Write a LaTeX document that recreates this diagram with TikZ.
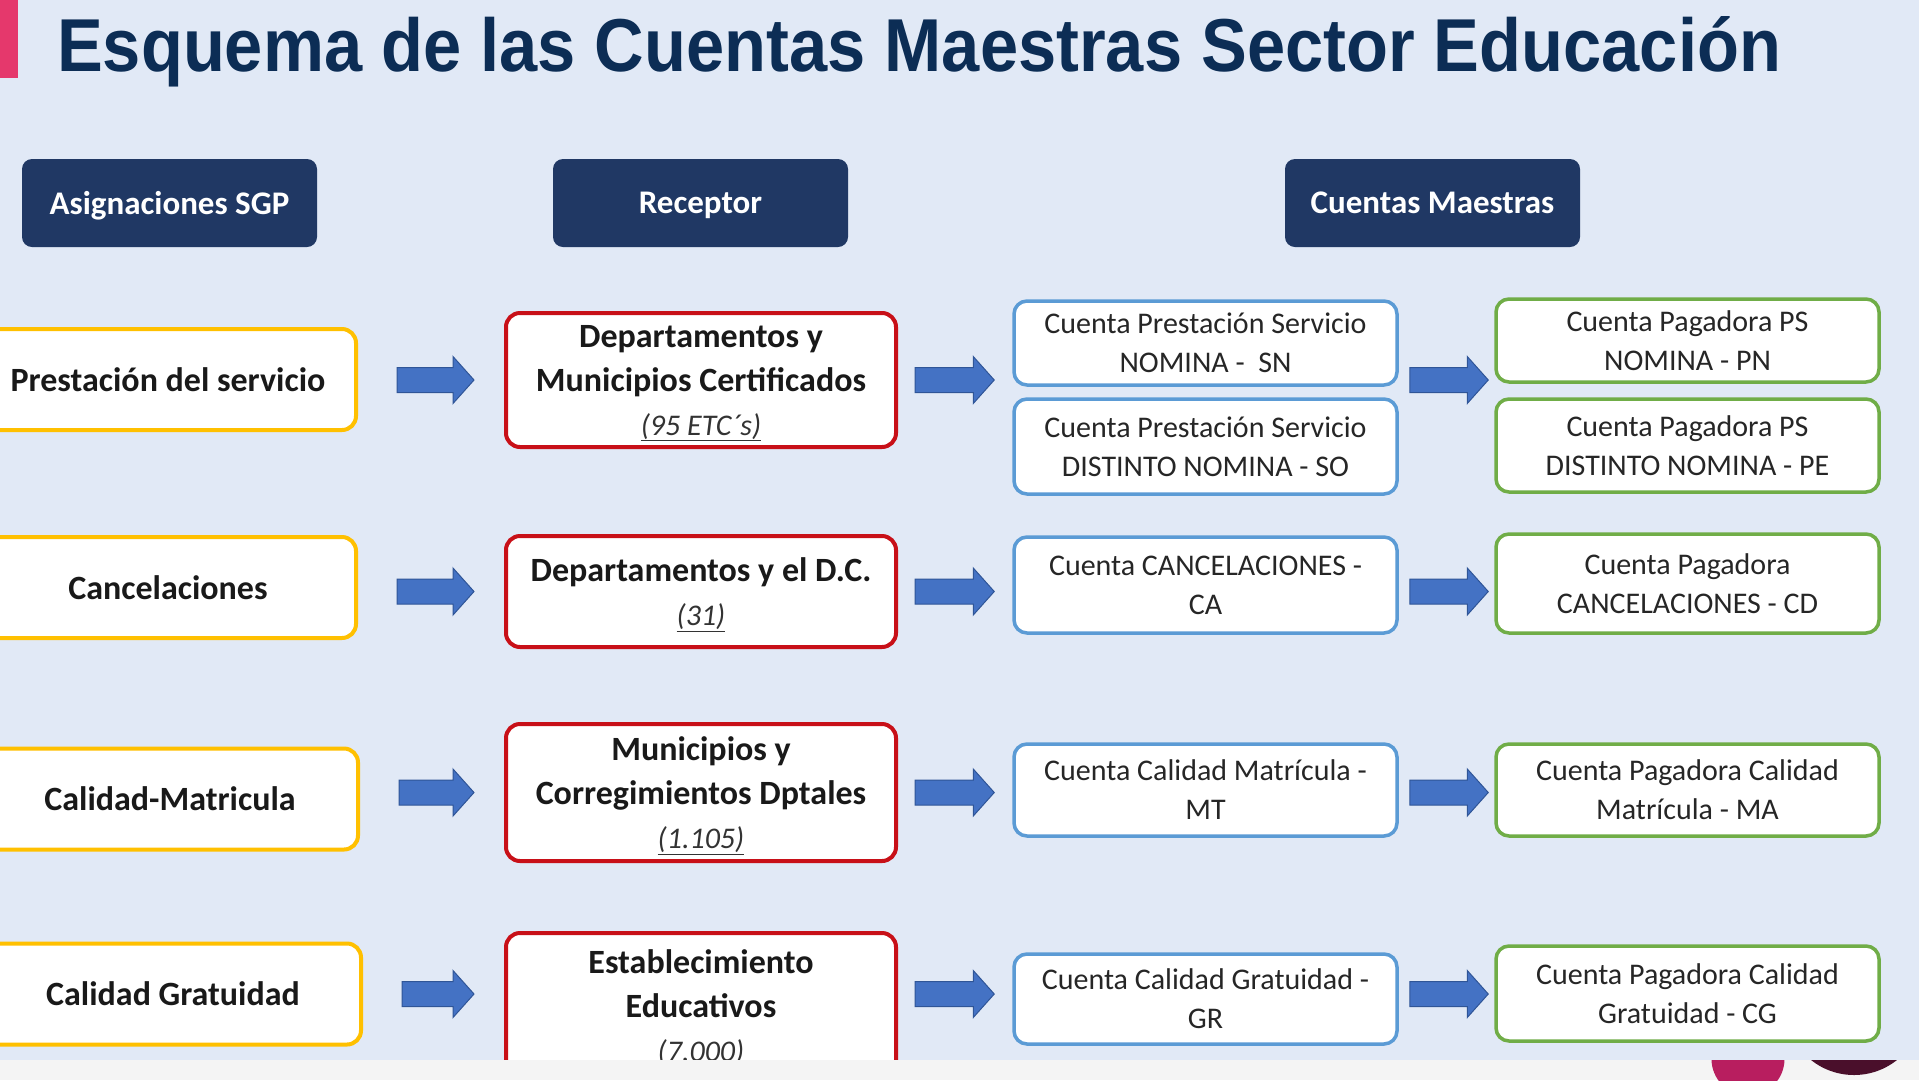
\documentclass[tikz,border=0pt]{standalone}
\usepackage{fontspec}
\setmainfont{Carlito}
\newfontfamily\titlefont[FakeStretch=0.915]{Liberation Sans}
\usetikzlibrary{calc}
\definecolor{bgblue}{RGB}{225,233,246}
\definecolor{navy}{RGB}{32,56,100}
\definecolor{titleblue}{RGB}{12,45,85}
\definecolor{barpink}{RGB}{229,56,108}
\definecolor{ygold}{RGB}{255,192,0}
\definecolor{rred}{RGB}{200,16,24}
\definecolor{bblue}{RGB}{91,155,213}
\definecolor{ggreen}{RGB}{112,173,71}
\definecolor{arrowblue}{RGB}{68,114,196}
\definecolor{arrowedge}{RGB}{47,85,151}
\definecolor{stripgray}{RGB}{244,244,244}
\definecolor{dotpink}{RGB}{184,30,95}
\definecolor{dotplum}{RGB}{74,15,43}
\newcommand{\cantidad}[1]{{\normalfont\itshape\fontsize{30}{44}\selectfont\color{black!80}\underline{#1}}}

\begin{document}
\begin{tikzpicture}[x=1pt, y=-1pt,
    head/.style={fill=navy, rounded corners=10pt, text=white, inner sep=0pt, text depth=0pt,
        font=\bfseries\fontsize{33}{40}\selectfont, minimum width=295pt, minimum height=88pt},
    src/.style={draw=ygold, line width=4pt, fill=white, rounded corners=14pt, inner sep=0pt,
        font=\bfseries\fontsize{34}{44}\selectfont, text=black!90, minimum width=376pt, minimum height=101pt},
    recv/.style={draw=rred, line width=4pt, fill=white, rounded corners=14pt, inner sep=0pt, align=center,
        text depth=0pt, font=\bfseries\fontsize{34}{44}\selectfont, text=black!90, minimum width=390pt},
    acct/.style={draw=bblue, line width=3.5pt, fill=white, rounded corners=13pt, inner sep=0pt, align=center,
        font=\fontsize{30}{39}\selectfont, text=black!85, minimum width=383pt},
    pay/.style={acct, draw=ggreen},
    blockarrow/.style={draw=arrowedge, fill=arrowblue, line width=1pt, line join=miter,
        to path={($(\tikztostart)+(0,-12.5)$) -- ($(\tikztotarget)+(-21,-12.5)$)
            -- ($(\tikztotarget)+(-21,-23.5)$) -- (\tikztotarget) -- ($(\tikztotarget)+(-21,23.5)$)
            -- ($(\tikztotarget)+(-21,12.5)$) -- ($(\tikztostart)+(0,12.5)$) -- cycle}},
]
    \useasboundingbox (0,0) rectangle (1919,1080);
    \begin{scope}
    \clip (0,0) rectangle (1919,1060);
    \fill[bgblue] (0,0) rectangle (1919,1060);
    \fill[barpink] (0,0) rectangle (18,78);
    \node[anchor=base west, inner sep=0pt, text=titleblue,
        font=\titlefont\bfseries\fontsize{75}{80}\selectfont] (title) at (57,71)
        {Esquema de las Cuentas Maestras Sector Educación};

    % column headers
    \node[head] (sgp) at (169.5,203) {Asignaciones SGP};
    \node[head] (rec) at (700.5,203) {Receptor};
    \node[head] (cm) at (1432.5,203) {Cuentas Maestras};

    % asignaciones
    \node[src] (pres) at (168,379.5) {Prestación del servicio};
    \node[src] (canc) at (168,587.5) {Cancelaciones};
    \node[src] (calm) at (170,799) {Calidad-Matricula};
    \node[src] (calg) at (173,994) {Calidad Gratuidad};

    % receptores
    \node[recv, minimum height=134pt] (dep1) at (701,380)
        {Departamentos y\\Municipios Certificados\\\cantidad{(95 ETC´s)}};
    \node[recv, minimum height=111pt] (dep2) at (701,591.5)
        {Departamentos y el D.C.\\\cantidad{(31)}};
    \node[recv, minimum height=137pt] (mun) at (701,792.5)
        {Municipios y\\Corregimientos Dptales\\\cantidad{(1.105)}};
    \node[recv, minimum height=146pt] (est) at (701,1006)
        {Establecimiento\\Educativos\\\cantidad{(7.000)}};

    % cuentas maestras
    \node[acct, minimum height=84pt] (sn) at (1205.5,343) {Cuenta Prestación Servicio\\NOMINA -\ \ SN};
    \node[acct, minimum height=95pt] (so) at (1205.5,446.5) {Cuenta Prestación Servicio\\DISTINTO NOMINA - SO};
    \node[acct, minimum height=96pt] (ca) at (1205.5,585) {Cuenta CANCELACIONES -\\CA};
    \node[acct, minimum height=92pt] (mt) at (1205.5,790) {Cuenta Calidad Matrícula -\\MT};
    \node[acct, minimum height=90pt] (gr) at (1205.5,999) {Cuenta Calidad Gratuidad -\\GR};

    % cuentas pagadoras
    \node[pay, minimum height=83pt] (pn) at (1687.5,340.5) {Cuenta Pagadora PS\\NOMINA - PN};
    \node[pay, minimum height=93pt] (pe) at (1687.5,445.5) {Cuenta Pagadora PS\\DISTINTO NOMINA - PE};
    \node[pay, minimum height=99pt] (cd) at (1687.5,583.5) {Cuenta Pagadora\\CANCELACIONES - CD};
    \node[pay, minimum height=92pt] (ma) at (1687.5,790) {Cuenta Pagadora Calidad\\Matrícula - MA};
    \node[pay, minimum height=95pt] (cg) at (1687.5,993.5) {Cuenta Pagadora Calidad\\Gratuidad - CG};

    % flechas
    \draw[blockarrow] ([xshift=39pt]pres.east |- dep1.west) to ([xshift=-30pt]dep1.west);
    \draw[blockarrow] ([xshift=17pt]dep1.east) to ([xshift=-18pt]sn.west |- dep1.east);
    \draw[blockarrow] ([xshift=11pt]sn.east |- dep1.east) to ([xshift=-6pt]pn.west |- dep1.east);

    \draw[blockarrow] ([xshift=39pt]canc.east |- dep2.west) to ([xshift=-30pt]dep2.west);
    \draw[blockarrow] ([xshift=17pt]dep2.east) to ([xshift=-18pt]ca.west |- dep2.east);
    \draw[blockarrow] ([xshift=11pt]ca.east |- dep2.east) to ([xshift=-6pt]cd.west |- dep2.east);

    \draw[blockarrow] ([xshift=39pt]calm.east |- mun.west) to ([xshift=-30pt]mun.west);
    \draw[blockarrow] ([xshift=17pt]mun.east) to ([xshift=-18pt]mt.west |- mun.east);
    \draw[blockarrow] ([xshift=11pt]mt.east |- mun.east) to ([xshift=-6pt]ma.west |- mun.east);

    \draw[blockarrow] ([xshift=39pt]calg.east) to ([xshift=-30pt]est.west |- calg.east);
    \draw[blockarrow] ([xshift=17pt]est.east |- calg.east) to ([xshift=-18pt]gr.west |- calg.east);
    \draw[blockarrow] ([xshift=11pt]gr.east |- calg.east) to ([xshift=-6pt]cg.west |- calg.east);
    \end{scope}

    % franja inferior
    \begin{scope}
    \clip (0,1060) rectangle (1919,1080);
    \fill[stripgray] (0,1060) rectangle (1919,1080);
    \fill[dotpink] (1748,1059) circle (36.5);
    \fill[dotplum] (1854,1006) circle (69);
    \end{scope}
\end{tikzpicture}
\end{document}
